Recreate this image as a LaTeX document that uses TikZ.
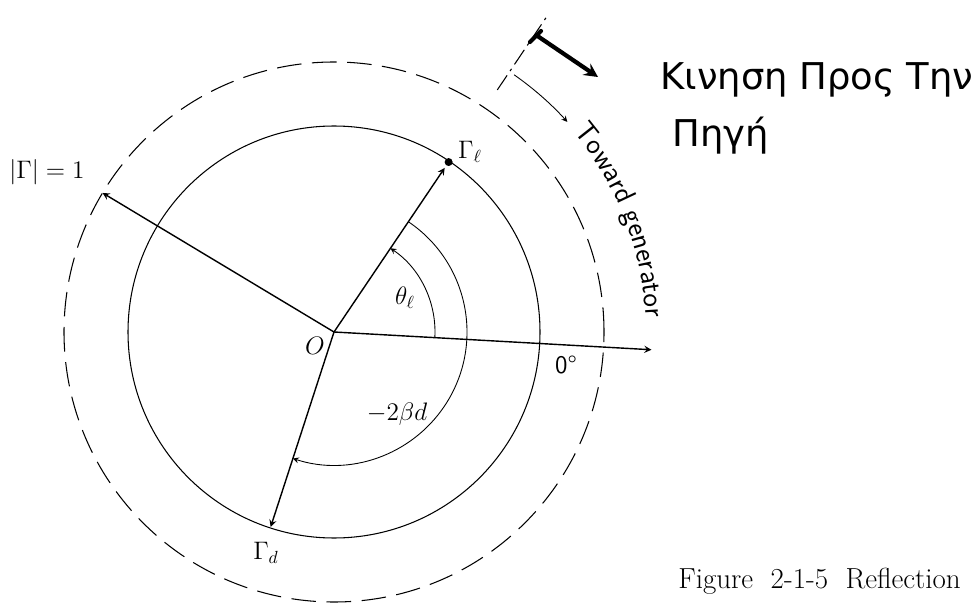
\documentclass[tikz,border=0pt]{standalone}
\usepackage{amsmath, amssymb}
\usepackage{fontspec}
\newfontfamily\grfont{DejaVu Sans}
\usetikzlibrary{calc,decorations.text}
\tikzstyle{ring} = [line width=0.6pt]
\tikzstyle{unitring} = [line width=0.6pt, dash pattern=on 14pt off 6pt]
\tikzstyle{arrow} = [line width=0.8pt,->,>=stealth]
\tikzstyle{anglearc} = [line width=0.5pt,->,>=stealth]
\tikzstyle{lbl} = [inner sep=0pt, font=\Large]

\begin{document}
\begin{tikzpicture}[x=0.02cm, y=0.02cm]
  \useasboundingbox (0,0) rectangle (977,606);
  \coordinate (O) at (334,274);
  \coordinate (unit) at ([shift={(149:270)}]O);
  \coordinate (gl) at ([shift={(56:205)}]O);
  \coordinate (zero) at ([shift={(-3.2:318)}]O);
  \coordinate (gd) at ([shift={(252:205)}]O);
  \coordinate (ext1) at ([shift={(56:292)}]O);
  \coordinate (ext2) at ([shift={(56:383)}]O);
  \coordinate (barA) at (530,564);
  \coordinate (barB) at (541,575);
  \coordinate (hs) at (536,571);
  \coordinate (he) at (598,529);
  % circles
  \draw[ring] (O) circle[radius=206];
  \draw[unitring] (O) circle[radius=270];
  % radial lines
  \draw[arrow] (O) -- (unit);
  \draw[arrow, shorten >=4pt] (O) -- (gl);
  \draw[arrow] (O) -- (zero);
  \draw[arrow] (O) -- (gd);
  \fill (gl) circle[radius=4];
  \draw[line width=0.6pt, dash pattern=on 10pt off 3pt on 1.5pt off 3pt] (ext1) -- (ext2);
  % angles
  \draw[anglearc] ([shift={(-3.2:101)}]O) arc[start angle=-3.2, end angle=56, radius=101];
  \draw[anglearc] ([shift={(56:133)}]O) arc[start angle=56, end angle=-108, radius=133];
  \draw[anglearc] ([shift={(55:314)}]O) arc[start angle=55, end angle=42, radius=314];
  \path[decorate, decoration={text along path, text={|\sffamily\fontsize{16.5}{18}\selectfont|Toward generator}}] ([shift={(40:312)}]O) arc[start angle=40, end angle=-2, radius=312];
  % hand note
  \draw[line width=2.4pt, line cap=round] (barA) -- (barB);
  \draw[line width=2.4pt, ->, >=stealth] (hs) -- (he);
  \node[anchor=base west, inner sep=0pt, font=\grfont\fontsize{21}{24}\selectfont] (move1) at (660,516) {Κινηση Προς Την};
  \node[anchor=base west, inner sep=0pt, font=\grfont\fontsize{21}{24}\selectfont] (move2) at (672,459) {Πηγή};
  % labels
  \node[lbl] (unitlbl) at (47,434) {$|\Gamma| = 1$};
  \node[lbl] (gllbl) at (470,454) {$\Gamma_\ell$};
  \node[lbl] (thlbl) at (405,308) {$\theta_\ell$};
  \node[lbl] (Olbl) at (315,260) {$O$};
  \node[lbl, font=\sffamily\Large] (zerolbl) at (566,241) {0\textdegree};
  \node[lbl] (betalbl) at (397,192) {$-2\beta d$};
  \node[lbl] (gdlbl) at (266,53) {$\Gamma_d$};
  \node[anchor=base west, inner sep=0pt, font=\fontsize{16.5}{19}\selectfont] (caption) at (678,18) {Figure\ \ 2-1-5\ \ Reflection};
\end{tikzpicture}
\end{document}
